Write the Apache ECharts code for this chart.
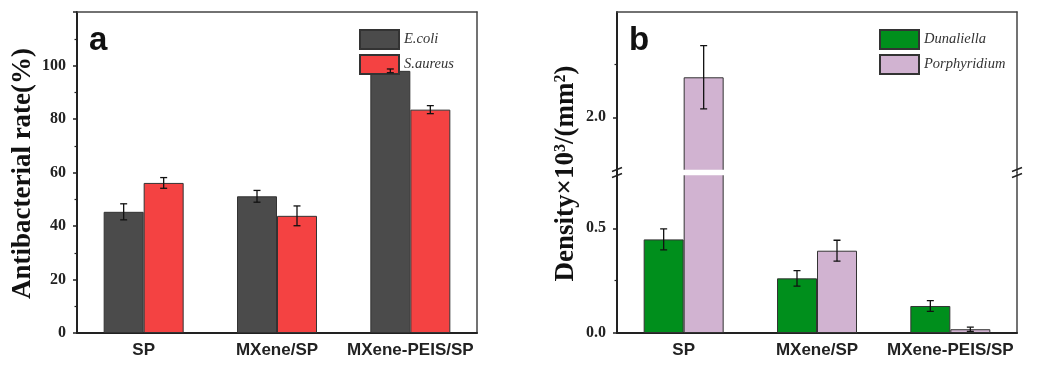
<!DOCTYPE html>
<html><head><meta charset="utf-8">
<script src="https://cdn.jsdelivr.net/npm/echarts@6/dist/echarts.min.js"></script>
<style>html,body{margin:0;padding:0;background:#fff}#c{width:1039px;height:374px}</style>
</head><body><div id="c"></div>
<script>
// ---- data ----
const categories = ['SP', 'MXene/SP', 'MXene-PEIS/SP'];
const ecoli = [45.3, 51.1, 98.0];
const ecoliErr = [3.0, 2.2, 0.7];
const saureus = [56.1, 43.8, 83.5];
const saureusErr = [2.0, 3.7, 1.5];
const dunaliella = [0.447, 0.261, 0.129];
const dunaliellaErr = [0.05, 0.037, 0.026];
const porphyridium = [2.19, 0.393, 0.018];
const porphyridiumErr = [0.15, 0.05, 0.01];
const lowerMajorTicks = [0, 0.5];
const lowerMinorTicks = [0.25];
const upperMajorTicks = [2.0];
const upperMinorTicks = [2.25];
const lowerRange = [0, 0.7665];
const upperRange = [1.738, 2.5];

// ---- styles ----
const C_GRAY = '#4b4b4b', C_RED = '#f44242', C_GREEN = '#008f1c', C_PINK = '#d1b3d1';
const AX = '#222', FRAME = '#444';
const serifBold = { fontFamily: 'Liberation Serif', fontWeight: 'bold', fontSize: 16, color: '#222' };
const sansBold = { fontFamily: 'Liberation Sans', fontWeight: 'bold', fontSize: 17, color: '#222' };

function errRender(sign) {
  return function (params, api) {
    const cat = api.value(0), v = api.value(1), e = api.value(2);
    const band = api.size([1, 0])[0];
    const off = sign * band * 0.15;
    const p1 = api.coord([cat, v + e]), p2 = api.coord([cat, v - e]);
    const x = p1[0] + off, cw = 3.5;
    const st = { stroke: '#111', lineWidth: 1.3 };
    return { type: 'group', children: [
      { type: 'line', shape: { x1: x, y1: p1[1], x2: x, y2: p2[1] }, style: st },
      { type: 'line', shape: { x1: x - cw, y1: p1[1], x2: x + cw, y2: p1[1] }, style: st },
      { type: 'line', shape: { x1: x - cw, y1: p2[1], x2: x + cw, y2: p2[1] }, style: st }
    ] };
  };
}
function errData(vals, errs) { return categories.map((c, i) => [i, vals[i], errs[i]]); }
function errSeries(vals, errs, sign, xi, yi) {
  return { type: 'custom', xAxisIndex: xi, yAxisIndex: yi, clip: true, z: 5, silent: true,
    renderItem: errRender(sign), encode: { x: 0, y: 1 }, data: errData(vals, errs) };
}
function barSeries(name, vals, color, xi, yi) {
  return { type: 'bar', name: name, xAxisIndex: xi, yAxisIndex: yi, data: vals,
    barGap: '0%', barCategoryGap: '40%', clip: true,
    itemStyle: { color: color, borderColor: '#333', borderWidth: 1 } };
}
function frameY(grid, range, pos) {
  return { type: 'value', gridIndex: grid, position: pos, min: range[0], max: range[1],
    axisLine: { show: true, onZero: false, lineStyle: { color: FRAME, width: 1.5 } },
    axisTick: { show: false }, axisLabel: { show: false }, splitLine: { show: false } };
}
function minorY(grid, range, vals) {
  return { type: 'value', gridIndex: grid, position: 'left', min: range[0], max: range[1],
    axisLine: { show: false },
    axisTick: { show: true, customValues: vals, length: 2.5, lineStyle: { color: AX, width: 1.2 } },
    axisLabel: { show: false }, splitLine: { show: false } };
}
function mainY(grid, range, ticks) {
  return { type: 'value', gridIndex: grid, position: 'left', min: range[0], max: range[1],
    axisLine: { show: true, onZero: false, lineStyle: { color: AX, width: 2 } },
    axisTick: { show: true, customValues: ticks, length: 4, lineStyle: { color: AX, width: 1.5 } },
    axisLabel: Object.assign({ customValues: ticks, margin: 11, formatter: v => Number(v).toFixed(1) }, serifBold),
    splitLine: { show: false } };
}
function catX(grid, pos, labels) {
  return { type: 'category', gridIndex: grid, position: pos, data: categories,
    axisLine: { show: true, onZero: false, lineStyle: { color: pos === 'bottom' ? AX : FRAME, width: pos === 'bottom' ? 2 : 1.5 } },
    axisTick: { show: false },
    axisLabel: labels ? Object.assign({ margin: 9, interval: 0, hideOverlap: false }, sansBold) : { show: false },
    splitLine: { show: false } };
}

const BREAK_Y = 172.5;
const breakMarks = [
  { type: 'rect', z: 100, shape: { x: 618.2, y: BREAK_Y - 2.8, width: 397.6, height: 5.6 }, style: { fill: '#fff' } }
];
[617, 1017].forEach(x => {
  breakMarks.push({ type: 'line', z: 101, shape: { x1: x - 5, y1: BREAK_Y - 1, x2: x + 5, y2: BREAK_Y - 5 }, style: { stroke: '#222', lineWidth: 1.5 } });
  breakMarks.push({ type: 'line', z: 101, shape: { x1: x - 5, y1: BREAK_Y + 5, x2: x + 5, y2: BREAK_Y + 1 }, style: { stroke: '#222', lineWidth: 1.5 } });
});

const option = {
  animation: false,
  backgroundColor: '#fff',
  grid: [
    { left: 77, right: 1039 - 477, top: 12, bottom: 41 },
    { left: 617, right: 22, top: BREAK_Y, bottom: 41 },
    { left: 617, right: 22, top: 12, bottom: 374 - BREAK_Y }
  ],
  legend: [
    { data: ['E.coli', 'S.aureus'], orient: 'vertical', left: 354, top: 24, itemWidth: 39, itemHeight: 19, itemGap: 4,
      icon: 'rect', textStyle: { fontFamily: 'Liberation Serif', fontStyle: 'italic', fontSize: 14.5, color: '#333' } },
    { data: ['Dunaliella', 'Porphyridium'], orient: 'vertical', left: 874, top: 24, itemWidth: 39, itemHeight: 19, itemGap: 4,
      icon: 'rect', textStyle: { fontFamily: 'Liberation Serif', fontStyle: 'italic', fontSize: 14.5, color: '#333' } }
  ],
  xAxis: [
    catX(0, 'bottom', true),   // 0
    catX(0, 'top', false),     // 1
    catX(1, 'bottom', true),   // 2
    catX(2, 'top', false)      // 3
  ],
  yAxis: [
    { type: 'value', gridIndex: 0, position: 'left', min: 0, max: 120, interval: 20,
      axisLine: { show: true, onZero: false, lineStyle: { color: AX, width: 2 } },
      axisTick: { show: true, length: 4, lineStyle: { color: AX, width: 1.5 } },
      minorTick: { show: true, splitNumber: 2, length: 2.5, lineStyle: { color: AX, width: 1.2 } },
      axisLabel: Object.assign({ margin: 11, formatter: v => (v >= 120 ? '' : String(v)) }, serifBold),
      splitLine: { show: false } },                       // 0
    frameY(0, [0, 120], 'right'),                         // 1
    mainY(1, lowerRange, lowerMajorTicks),                // 2
    minorY(1, lowerRange, lowerMinorTicks),               // 3
    frameY(1, lowerRange, 'right'),                       // 4
    mainY(2, upperRange, upperMajorTicks),                // 5
    minorY(2, upperRange, upperMinorTicks),               // 6
    frameY(2, upperRange, 'right')                        // 7
  ],
  series: [
    barSeries('E.coli', ecoli, C_GRAY, 0, 0),
    barSeries('S.aureus', saureus, C_RED, 0, 0),
    errSeries(ecoli, ecoliErr, -1, 0, 0),
    errSeries(saureus, saureusErr, 1, 0, 0),
    barSeries('Dunaliella', dunaliella, C_GREEN, 2, 2),
    barSeries('Porphyridium', porphyridium, C_PINK, 2, 2),
    errSeries(dunaliella, dunaliellaErr, -1, 2, 2),
    errSeries(porphyridium, porphyridiumErr, 1, 2, 2),
    barSeries('Dunaliella', dunaliella, C_GREEN, 3, 5),
    barSeries('Porphyridium', porphyridium, C_PINK, 3, 5),
    errSeries(dunaliella, dunaliellaErr, -1, 3, 5),
    errSeries(porphyridium, porphyridiumErr, 1, 3, 5)
  ],
  graphic: [
    { type: 'text', x: 89, y: 24, style: { text: 'a', font: 'bold 33px "Liberation Sans"', fill: '#111', verticalAlign: 'top' } },
    { type: 'text', x: 629, y: 24, style: { text: 'b', font: 'bold 33px "Liberation Sans"', fill: '#111', verticalAlign: 'top' } },
    { type: 'text', x: 23, y: 173.5, rotation: Math.PI / 2,
      style: { text: 'Antibacterial rate(%)', font: 'bold 27px "Liberation Serif"', fill: '#111', align: 'center', verticalAlign: 'middle' } },
    { type: 'text', x: 566, y: 173.5, rotation: Math.PI / 2,
      style: { text: '{m|Density×10}{s|3}{m|/(mm}{s|2}{m|)}', align: 'center', verticalAlign: 'middle',
        rich: { m: { fontFamily: 'Liberation Serif', fontWeight: 'bold', fontSize: 27, lineHeight: 27, fill: '#111' },
                s: { fontFamily: 'Liberation Serif', fontWeight: 'bold', fontSize: 16, lineHeight: 16, fill: '#111', verticalAlign: 'top' } } } }
  ].concat(breakMarks)
};

const chart = echarts.init(document.getElementById('c'), null, { renderer: 'canvas' });
chart.setOption(option);
</script>
</body></html>
